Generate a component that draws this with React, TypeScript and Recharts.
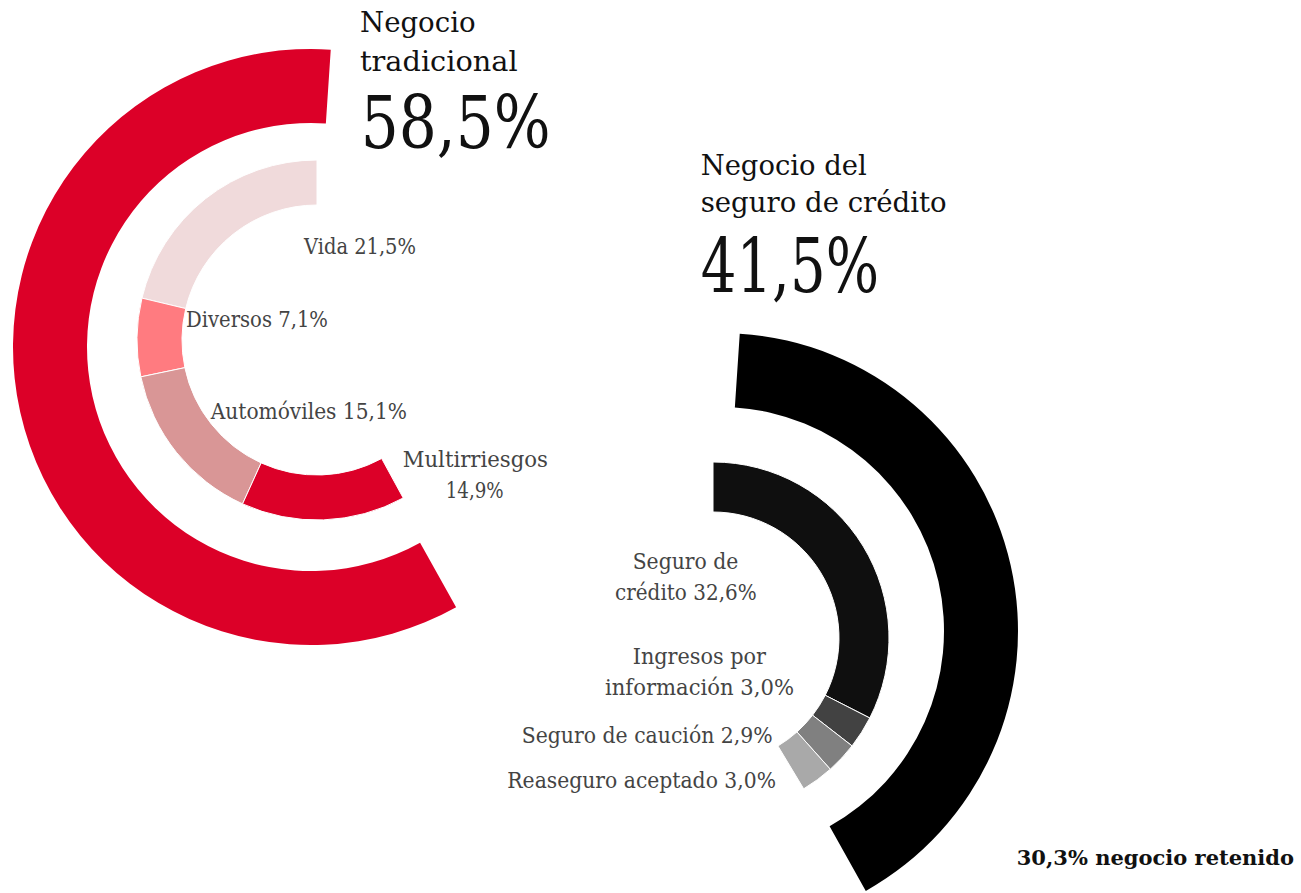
import React from 'react';
import { PieChart, Pie, Cell, Customized } from 'recharts';

// ---------- DATA ----------
const SEGMENT_NAMES = ['Negocio tradicional', 'Negocio del seguro de crédito'];
const SEGMENT_VALUES = [58.5, 41.5];

const TRAD_NAMES = ['Vida', 'Diversos', 'Automóviles', 'Multirriesgos'];
const TRAD_VALUES = [21.5, 7.1, 15.1, 14.9];

const CREDIT_NAMES = ['Seguro de crédito', 'Ingresos por información', 'Seguro de caución', 'Reaseguro aceptado'];
const CREDIT_VALUES = [32.6, 3.0, 2.9, 3.0];

const RETAINED_VALUE = 30.3;
const RETAINED_TEXT = 'negocio retenido';

// ---------- STYLE / LAYOUT ----------
const SEGMENT_COLORS = ['#DC0028', '#000000'];
const TRAD_COLORS = ['#F0DADB', '#FF7B80', '#D99696', '#DC0028'];
const CREDIT_COLORS = ['#0F0F0F', '#424242', '#808080', '#A9A9A9'];

const FONT = '"DejaVu Serif", serif';
const LABEL_COLOR = '#444444';

const RINGS = {
  tradOuter: { cx: 311, cy: 347, inner: 224, outer: 298, start: 86.2, degPerPct: 3.64, dir: 1 },
  tradInner: { cx: 317, cy: 340, inner: 135, outer: 180, start: 90, degPerPct: 3.56, dir: 1 },
  creditOuter: { cx: 720, cy: 631, inner: 224, outer: 298, start: 86.2, degPerPct: 3.54, dir: -1 },
  creditInner: { cx: 713, cy: 638, inner: 126, outer: 176, start: 90, degPerPct: 3.59, dir: -1 },
};

// title layout: [name lines..., number]
const TITLE_LAYOUT = [
  {
    breakAfter: 1,
    lines: [
      { x: 360, y: 32.3, w: 115.6 },
      { x: 360, y: 71, w: 157.6 },
    ],
    number: { x: 360.7, y: 148.3, w: 190, size: 72 },
  },
  {
    breakAfter: 2,
    lines: [
      { x: 700.7, y: 175, w: 166 },
      { x: 700.7, y: 211.7, w: 246 },
    ],
    number: { x: 700.7, y: 291.7, w: 178.3, size: 74 },
  },
];

const TRAD_LABEL_LAYOUT = [
  { breakAfter: 0, lines: [{ x: 304, y: 254, w: 112 }] },
  { breakAfter: 0, lines: [{ x: 186, y: 326.7, w: 142 }] },
  { breakAfter: 0, lines: [{ x: 210.7, y: 419, w: 196.3 }] },
  { breakAfter: 1, lines: [{ x: 402.7, y: 467.3, w: 145.3 }, { x: 445.7, y: 498, w: 58 }] },
];

const CREDIT_LABEL_LAYOUT = [
  { breakAfter: 2, lines: [{ x: 632.7, y: 569, w: 105.6 }, { x: 615, y: 600, w: 141.7 }] },
  { breakAfter: 2, lines: [{ x: 632.7, y: 664, w: 133.3 }, { x: 605, y: 695, w: 189 }] },
  { breakAfter: 0, lines: [{ x: 521.7, y: 743, w: 251 }] },
  { breakAfter: 0, lines: [{ x: 507.3, y: 788, w: 268.7 }] },
];

// anchored at its right end, natural width
const RETAINED_LAYOUT = { x: 1294, y: 865, size: 21, anchor: 'end' };

// ---------- helpers ----------
const fmt = (v: number) => v.toFixed(1).replace('.', ',') + '%';
const sum = (a: number[]) => a.reduce((s, v) => s + v, 0);

const splitWords = (text: string, breakAfter: number): string[] => {
  if (!breakAfter) return [text];
  const words = text.split(' ');
  return [words.slice(0, breakAfter).join(' '), words.slice(breakAfter).join(' ')];
};

const toData = (names: string[], values: number[]) => names.map((n, i) => ({ name: n, value: values[i] }));

const endAngleOf = (ring: any, values: number[]) => ring.start + ring.dir * sum(values) * ring.degPerPct;

const TextLine = ({ x, y, w, size, weight, fill, anchor, children }: any) => (
  <text
    x={x}
    y={y}
    fontFamily={FONT}
    fontSize={size}
    fontWeight={weight || 'normal'}
    fill={fill}
    textAnchor={anchor || 'start'}
    {...(w ? { textLength: w, lengthAdjust: 'spacingAndGlyphs' } : {})}
  >
    {children}
  </text>
);

const Overlay = () => (
  <g>
    {SEGMENT_NAMES.map((name, i) => {
      const lay = TITLE_LAYOUT[i];
      const lines = splitWords(name, lay.breakAfter);
      return (
        <g key={'title' + i}>
          {lines.map((ln, j) => (
            <TextLine key={j} {...lay.lines[j]} size={28} fill="#111111">
              {ln}
            </TextLine>
          ))}
          <TextLine {...lay.number} fill="#111111">
            {fmt(SEGMENT_VALUES[i])}
          </TextLine>
        </g>
      );
    })}
    {TRAD_NAMES.map((name, i) => {
      const lay = TRAD_LABEL_LAYOUT[i];
      const lines = splitWords(`${name} ${fmt(TRAD_VALUES[i])}`, lay.breakAfter);
      return lines.map((ln, j) => (
        <TextLine key={'t' + i + '-' + j} {...lay.lines[j]} size={22} fill={LABEL_COLOR}>
          {ln}
        </TextLine>
      ));
    })}
    {CREDIT_NAMES.map((name, i) => {
      const lay = CREDIT_LABEL_LAYOUT[i];
      const lines = splitWords(`${name} ${fmt(CREDIT_VALUES[i])}`, lay.breakAfter);
      return lines.map((ln, j) => (
        <TextLine key={'c' + i + '-' + j} {...lay.lines[j]} size={22} fill={LABEL_COLOR}>
          {ln}
        </TextLine>
      ));
    })}
    <TextLine {...RETAINED_LAYOUT} weight="bold" fill="#111111">
      {`${fmt(RETAINED_VALUE)} ${RETAINED_TEXT}`}
    </TextLine>
  </g>
);

const ringPie = (key: string, ring: any, names: string[], values: number[], colors: string[], stroke: string) => (
  <Pie
    key={key}
    data={toData(names, values)}
    dataKey="value"
    nameKey="name"
    cx={ring.cx}
    cy={ring.cy}
    innerRadius={ring.inner}
    outerRadius={ring.outer}
    startAngle={ring.start}
    endAngle={endAngleOf(ring, values)}
    paddingAngle={0}
    stroke={stroke}
    strokeWidth={stroke === 'none' ? 0 : 1}
    label={false}
    labelLine={false}
    isAnimationActive={false}
  >
    {values.map((_, i) => (
      <Cell key={i} fill={colors[i]} />
    ))}
  </Pie>
);

export default function App() {
  return (
    <div style={{ position: 'absolute', left: 0, top: 0, width: 1301, height: 893, background: '#fff' }}>
      <PieChart width={1301} height={893} margin={{ top: 0, right: 0, bottom: 0, left: 0 }}>
        {ringPie('tradOuter', RINGS.tradOuter, [SEGMENT_NAMES[0]], [SEGMENT_VALUES[0]], [SEGMENT_COLORS[0]], 'none')}
        {ringPie('tradInner', RINGS.tradInner, TRAD_NAMES, TRAD_VALUES, TRAD_COLORS, '#ffffff')}
        {ringPie('creditOuter', RINGS.creditOuter, [SEGMENT_NAMES[1]], [SEGMENT_VALUES[1]], [SEGMENT_COLORS[1]], 'none')}
        {ringPie('creditInner', RINGS.creditInner, CREDIT_NAMES, CREDIT_VALUES, CREDIT_COLORS, '#ffffff')}
        <Customized component={Overlay} />
      </PieChart>
    </div>
  );
}
